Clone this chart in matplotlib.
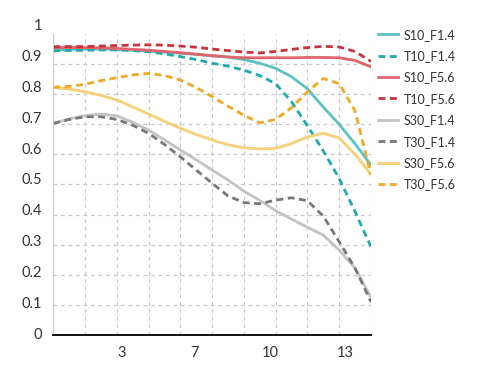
import matplotlib
matplotlib.use('Agg')
import matplotlib.pyplot as plt
import numpy as np

plt.rcParams['font.family'] = ['Lato', 'DejaVu Sans']

# x positions: 0..14, sampled every half grid cell (grid cell = 1.4)
x = [0.0, 0.7, 1.4, 2.1, 2.8, 3.5, 4.2, 4.9, 5.6, 6.3, 7.0,
     7.7, 8.4, 9.1, 9.8, 10.5, 11.2, 11.9, 12.6, 13.3, 14.0]

s10_f14 = [.947, .949, .950, .950, .949, .946, .943, .940, .936, .932, .928,
           .923, .915, .903, .886, .858, .818, .757, .700, .635, .565]
t10_f14 = [.944, .945, .946, .947, .947, .945, .941, .934, .925, .915, .903,
           .893, .880, .862, .835, .775, .695, .612, .520, .410, .293]
s10_f56 = [.955, .955, .955, .954, .952, .949, .946, .942, .938, .933, .928,
           .924, .921, .921, .921, .921, .922, .922, .921, .912, .891]
t10_f56 = [.958, .958, .958, .960, .962, .963, .964, .963, .960, .956, .950,
           .945, .940, .937, .942, .949, .955, .959, .957, .942, .909]
s30_f14 = [.703, .718, .729, .734, .728, .707, .681, .648, .615, .582, .548,
           .515, .478, .447, .413, .385, .358, .332, .282, .222, .125]
t30_f14 = [.703, .716, .725, .725, .716, .697, .670, .633, .592, .548, .504,
           .462, .440, .436, .448, .456, .446, .395, .310, .222, .110]
s30_f56 = [.823, .817, .808, .796, .781, .758, .734, .710, .687, .666, .648,
           .632, .622, .618, .620, .636, .658, .670, .655, .600, .534]
t30_f56 = [.823, .826, .833, .845, .855, .864, .869, .862, .847, .822, .792,
           .760, .730, .705, .716, .755, .808, .852, .835, .745, .532]

series = [
    ('S10_F1.4', s10_f14, '#5bc1c4', '-'),
    ('T10_F1.4', t10_f14, '#1faab0', '--'),
    ('S10_F5.6', s10_f56, '#e0646a', '-'),
    ('T10_F5.6', t10_f56, '#c8323c', '--'),
    ('S30_F1.4', s30_f14, '#c3c3c3', '-'),
    ('T30_F1.4', t30_f14, '#777777', '--'),
    ('S30_F5.6', s30_f56, '#f6cf78', '-'),
    ('T30_F5.6', t30_f56, '#eea823', '--'),
]

xtick_pos = [3.02, 6.22, 9.58, 12.85]
xtick_labels = ['3', '7', '10', '13']
ytick_vals = [0, 0.1, 0.2, 0.3, 0.4, 0.5, 0.6, 0.7, 0.8, 0.9, 1]
ytick_labels = ['0', '0.1', '0.2', '0.3', '0.4', '0.5', '0.6', '0.7', '0.8', '0.9', '1']

ax_rect = [0.1088, 0.0897, 0.6482, 0.8179]
fig = plt.figure(figsize=(4.9, 3.68), dpi=100)
ax = fig.add_axes(ax_rect)

for name, vals, color, ls in series:
    if ls == '--':
        ax.plot(x, vals, color=color, lw=2, linestyle=(0, (2.5, 1.6)), label=name)
    else:
        ax.plot(x, vals, color=color, lw=2, label=name)

ax.set_xlim(0, 14)
ax.set_ylim(0, 1)

# grid
ax.set_xticks(np.arange(0, 14.01, 1.4), minor=True)
ax.set_yticks([0.1, 0.2, 0.3, 0.4, 0.5, 0.6, 0.7, 0.8, 0.9])
ax.grid(which='minor', axis='x', color='#c8c8c8', lw=0.9, linestyle=(0, (3, 3)))
ax.grid(which='major', axis='y', color='#c8c8c8', lw=0.9, linestyle=(0, (3, 3)))
ax.set_yticklabels([])
ax.tick_params(axis='y', length=0)
ax.tick_params(axis='x', which='both', length=0)
ax.set_xticks(xtick_pos)
ax.set_xticklabels(xtick_labels, fontsize=10.5, color='#333333')
ax.tick_params(axis='x', pad=8)
ax.xaxis.grid(False, which='major')

for s in ['top', 'right']:
    ax.spines[s].set_visible(False)
ax.spines['left'].set_color('#cccccc')
ax.spines['left'].set_linewidth(0.8)
ax.spines['bottom'].set_color('#111111')
ax.spines['bottom'].set_linewidth(1.4)

# y tick labels drift slightly above the grid in the original
ax_h = ax_rect[3] * 368
ax_w = ax_rect[2] * 490
for v, lab in zip(ytick_vals, ytick_labels):
    ax.text(-11 / ax_w, v * 309 / ax_h, lab, transform=ax.transAxes,
            ha='right', va='center', fontsize=10.5, color='#333333')

ax.legend(loc='upper left', bbox_to_anchor=(0.772, 0.922), bbox_transform=fig.transFigure,
          frameon=False, fontsize=9, handlelength=1.6, handletextpad=0.45,
          labelspacing=0.75, borderpad=0, borderaxespad=0, labelcolor='#333333')

plt.savefig('out.png', dpi=100)
